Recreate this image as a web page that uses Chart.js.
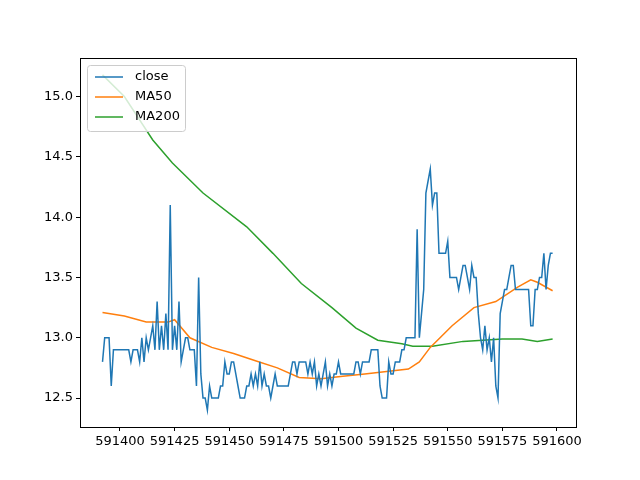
<!DOCTYPE html>
<html>
<head>
<script src="https://cdn.jsdelivr.net/npm/chart.js@4/dist/chart.umd.min.js"></script>
<style>body{margin:0;background:#fff}</style>
</head>
<body>
<canvas id="mychart" width="640" height="480"></canvas>
<script>
const startX = 591392;
const close = [
 12.8,13.0,13.0,13.0,12.6,12.9,12.9,12.9,12.9,12.9,
 12.9,12.9,12.9,12.8,12.9,12.9,12.9,12.8,13.0,12.8,
 13.0,12.9,13.0,13.1,12.9,13.3,12.9,13.1,12.9,13.2,
 12.9,14.1,12.9,13.1,12.9,13.3,12.8,12.9,13.0,13.0,
 12.9,12.9,12.9,12.6,13.5,12.7,12.5,12.5,12.4,12.6,
 12.5,12.5,12.5,12.5,12.6,12.6,12.8,12.7,12.7,12.8,
 12.8,12.7,12.6,12.5,12.5,12.5,12.6,12.6,12.7,12.6,
 12.7,12.6,12.8,12.6,12.7,12.6,12.6,12.5,12.6,12.7,
 12.6,12.6,12.6,12.6,12.6,12.6,12.7,12.8,12.8,12.7,
 12.8,12.8,12.8,12.8,12.7,12.8,12.7,12.8,12.6,12.7,
 12.6,12.7,12.8,12.6,12.7,12.6,12.7,12.7,12.8,12.7,
 12.7,12.7,12.7,12.7,12.7,12.7,12.8,12.8,12.7,12.8,
 12.8,12.8,12.8,12.9,12.9,12.9,12.9,12.6,12.5,12.5,
 12.5,12.8,12.7,12.7,12.8,12.8,12.8,12.9,12.9,13.0,
 13.0,13.0,13.0,13.0,13.9,13.0,13.2,13.4,14.2,14.3,
 14.4,14.1,14.2,14.2,13.7,13.7,13.7,13.7,13.8,13.5,
 13.5,13.5,13.5,13.4,13.5,13.6,13.6,13.5,13.4,13.6,
 13.5,13.5,13.2,13.0,12.9,13.1,12.9,13.0,12.8,13.0,
 12.6,12.5,13.2,13.3,13.4,13.4,13.5,13.6,13.6,13.4,
 13.4,13.4,13.4,13.4,13.4,13.4,13.1,13.1,13.4,13.4,
 13.5,13.5,13.7,13.4,13.6,13.7,13.7
];
// moving averages read at sparse positions (offset from startX)
const ma50Idx = [0,10,20,30,33,40,50,60,70,80,90,100,110,120,130,140,145,150,160,170,180,190,196,199,206];
const ma50 = [13.21,13.18,13.13,13.13,13.15,13.0,12.92,12.87,12.81,12.75,12.67,12.66,12.68,12.70,12.72,12.74,12.80,12.92,13.10,13.25,13.30,13.42,13.48,13.46,13.39];
const ma200Idx = [0,10,23,32,46,66,78,91,105,116,126,137,142,151,165,174,183,192,199,206];
const ma200 = [15.18,15.0,14.64,14.45,14.2,13.92,13.7,13.45,13.25,13.08,12.98,12.95,12.93,12.93,12.97,12.98,12.99,12.99,12.97,12.99];
const xTicks = [591400,591425,591450,591475,591500,591525,591550,591575,591600];
const yTicks = [12.5,13.0,13.5,14.0,14.5,15.0];

const closePts = close.map((v,i)=>({x:startX+i,y:v}));
const ma50Pts = ma50.map((v,i)=>({x:startX+ma50Idx[i],y:v}));
const ma200Pts = ma200.map((v,i)=>({x:startX+ma200Idx[i],y:v}));

const frame = {
  id:'frame',
  afterDraw(c){
    const {ctx, chartArea:a} = c;
    ctx.save();
    ctx.strokeStyle='#000'; ctx.lineWidth=1;
    ctx.strokeRect(a.left+0.5,a.top+0.5,a.right-a.left,a.bottom-a.top);
    // legend box, upper left
    const items = c.data.datasets;
    const x0=a.left+7, y0=a.top+7, w=98, h=66;
    ctx.fillStyle='rgba(255,255,255,0.8)';
    ctx.strokeStyle='#ccc';
    ctx.beginPath(); ctx.roundRect(x0+0.5,y0+0.5,w,h,3); ctx.fill(); ctx.stroke();
    ctx.font='13px "DejaVu Sans"'; ctx.textBaseline='middle';
    items.forEach((d,i)=>{
      const yy=y0+12+i*20;
      ctx.strokeStyle=d.borderColor; ctx.lineWidth=1.5;
      ctx.beginPath(); ctx.moveTo(x0+8,yy); ctx.lineTo(x0+36,yy); ctx.stroke();
      ctx.fillStyle='#000'; ctx.fillText(d.label,x0+48,yy);
    });
    ctx.restore();
  }
};

const chart = document.getElementById('mychart').getContext('2d');
new Chart(chart,{
  type:'line',
  data:{datasets:[
    {label:'close',data:closePts,borderColor:'#1f77b4',borderWidth:1.5,pointRadius:0},
    {label:'MA50',data:ma50Pts,borderColor:'#ff7f0e',borderWidth:1.5,pointRadius:0},
    {label:'MA200',data:ma200Pts,borderColor:'#2ca02c',borderWidth:1.5,pointRadius:0}
  ]},
  options:{
    responsive:false,animation:false,
    layout:{padding:{top:58,right:64,left:0,bottom:0}},
    plugins:{legend:{display:false},tooltip:{enabled:false}},
    scales:{
      x:{type:'linear',min:591381.7,max:591608.7,
        afterBuildTicks:s=>{s.ticks=xTicks.map(v=>({value:v}));},
        afterFit:s=>{s.height=53;},
        ticks:{color:'#000',font:{family:'DejaVu Sans',size:13},maxRotation:0,autoSkip:false,callback:v=>String(v)},
        grid:{drawOnChartArea:false,tickLength:4,tickColor:'#000'},
        border:{color:'#000'}},
      y:{min:12.26,max:15.32,
        afterBuildTicks:s=>{s.ticks=yTicks.map(v=>({value:v}));},
        afterFit:s=>{s.width=80;},
        ticks:{color:'#000',font:{family:'DejaVu Sans',size:13},callback:v=>v.toFixed(1)},
        grid:{drawOnChartArea:false,tickLength:4,tickColor:'#000'},
        border:{color:'#000'}}
    }
  },
  plugins:[frame]
});
</script>
</body>
</html>
